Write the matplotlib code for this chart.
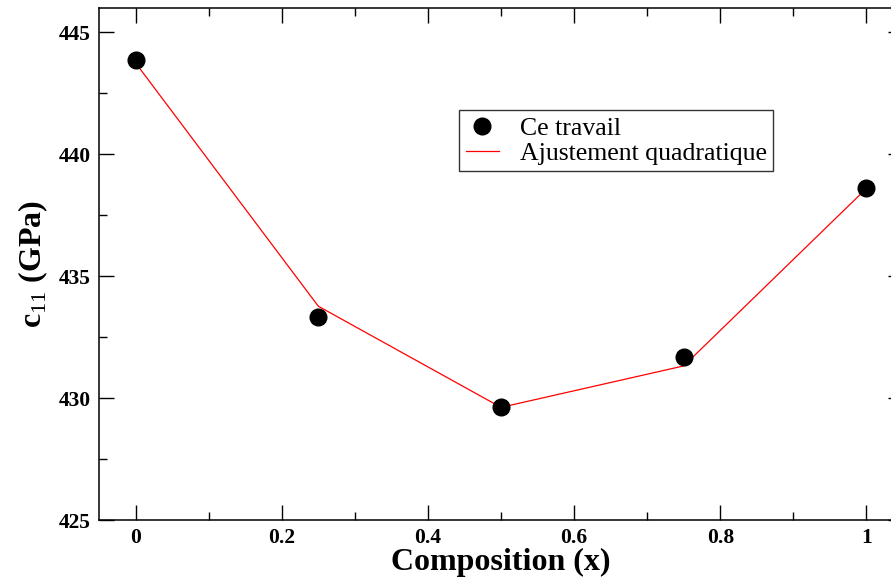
import matplotlib.pyplot as plt
import numpy as np
from matplotlib.ticker import MultipleLocator

# composition x and elastic constant c11 (GPa)
composition = [0.0, 0.25, 0.5, 0.75, 1.0]
c11_calc = [443.87, 433.33, 429.65, 431.70, 438.60]
c11_fit = [443.75, 433.77, 429.62, 431.32, 438.60]

serif = ['Liberation Serif', 'DejaVu Serif']
plt.rcParams['mathtext.fontset'] = 'custom'
plt.rcParams['mathtext.rm'] = 'Liberation Serif'
plt.rcParams['mathtext.bf'] = 'Liberation Serif:bold'

fig = plt.figure(figsize=(8.91, 5.81), dpi=100)
ax = fig.add_axes([99/891, 61/581, 804/891, 512/581])

ax.plot(composition, c11_fit, '-', color='red', lw=0.9, label='Ajustement quadratique', zorder=2)
ax.plot(composition, c11_calc, 'o', color='black', ms=12, ls='none', label='Ce travail', zorder=3)

ax.set_xlim(-0.05, 1.05)
ax.set_ylim(425, 446)
ax.xaxis.set_major_locator(MultipleLocator(0.2))
ax.xaxis.set_minor_locator(MultipleLocator(0.1))
ax.yaxis.set_major_locator(MultipleLocator(5))
ax.yaxis.set_minor_locator(MultipleLocator(2.5))
ax.set_xticks([0, 0.2, 0.4, 0.6, 0.8, 1.0])
ax.set_xticklabels(['0', '0.2', '0.4', '0.6', '0.8', '1'])

ax.tick_params(which='both', direction='in', top=True, right=True, width=1.0)
ax.tick_params(which='major', length=11, pad=6)
ax.tick_params(which='minor', length=6)
for lab in ax.get_xticklabels() + ax.get_yticklabels():
    lab.set_family(serif)
    lab.set_fontweight('bold')
    lab.set_fontsize(15.5)
for s in ax.spines.values():
    s.set_linewidth(1.1)

ax.set_xlabel('Composition (x)', family=serif, fontweight='bold', fontsize=23, labelpad=0)
ax.set_ylabel(r'c$_{\mathrm{11}}$ (GPa)', family=serif, fontweight='bold', fontsize=23, labelpad=6)

h, l = ax.get_legend_handles_labels()
leg = ax.legend(h[::-1], l[::-1], loc='upper left', bbox_to_anchor=(0.448, 0.80),
                prop={'family': serif, 'size': 18.5}, frameon=True, fancybox=False,
                edgecolor='black', handlelength=1.3, borderpad=0.25, labelspacing=0.08,
                handletextpad=0.8, borderaxespad=0)
leg.get_frame().set_linewidth(1.0)

fig.savefig('out.png', dpi=100)
